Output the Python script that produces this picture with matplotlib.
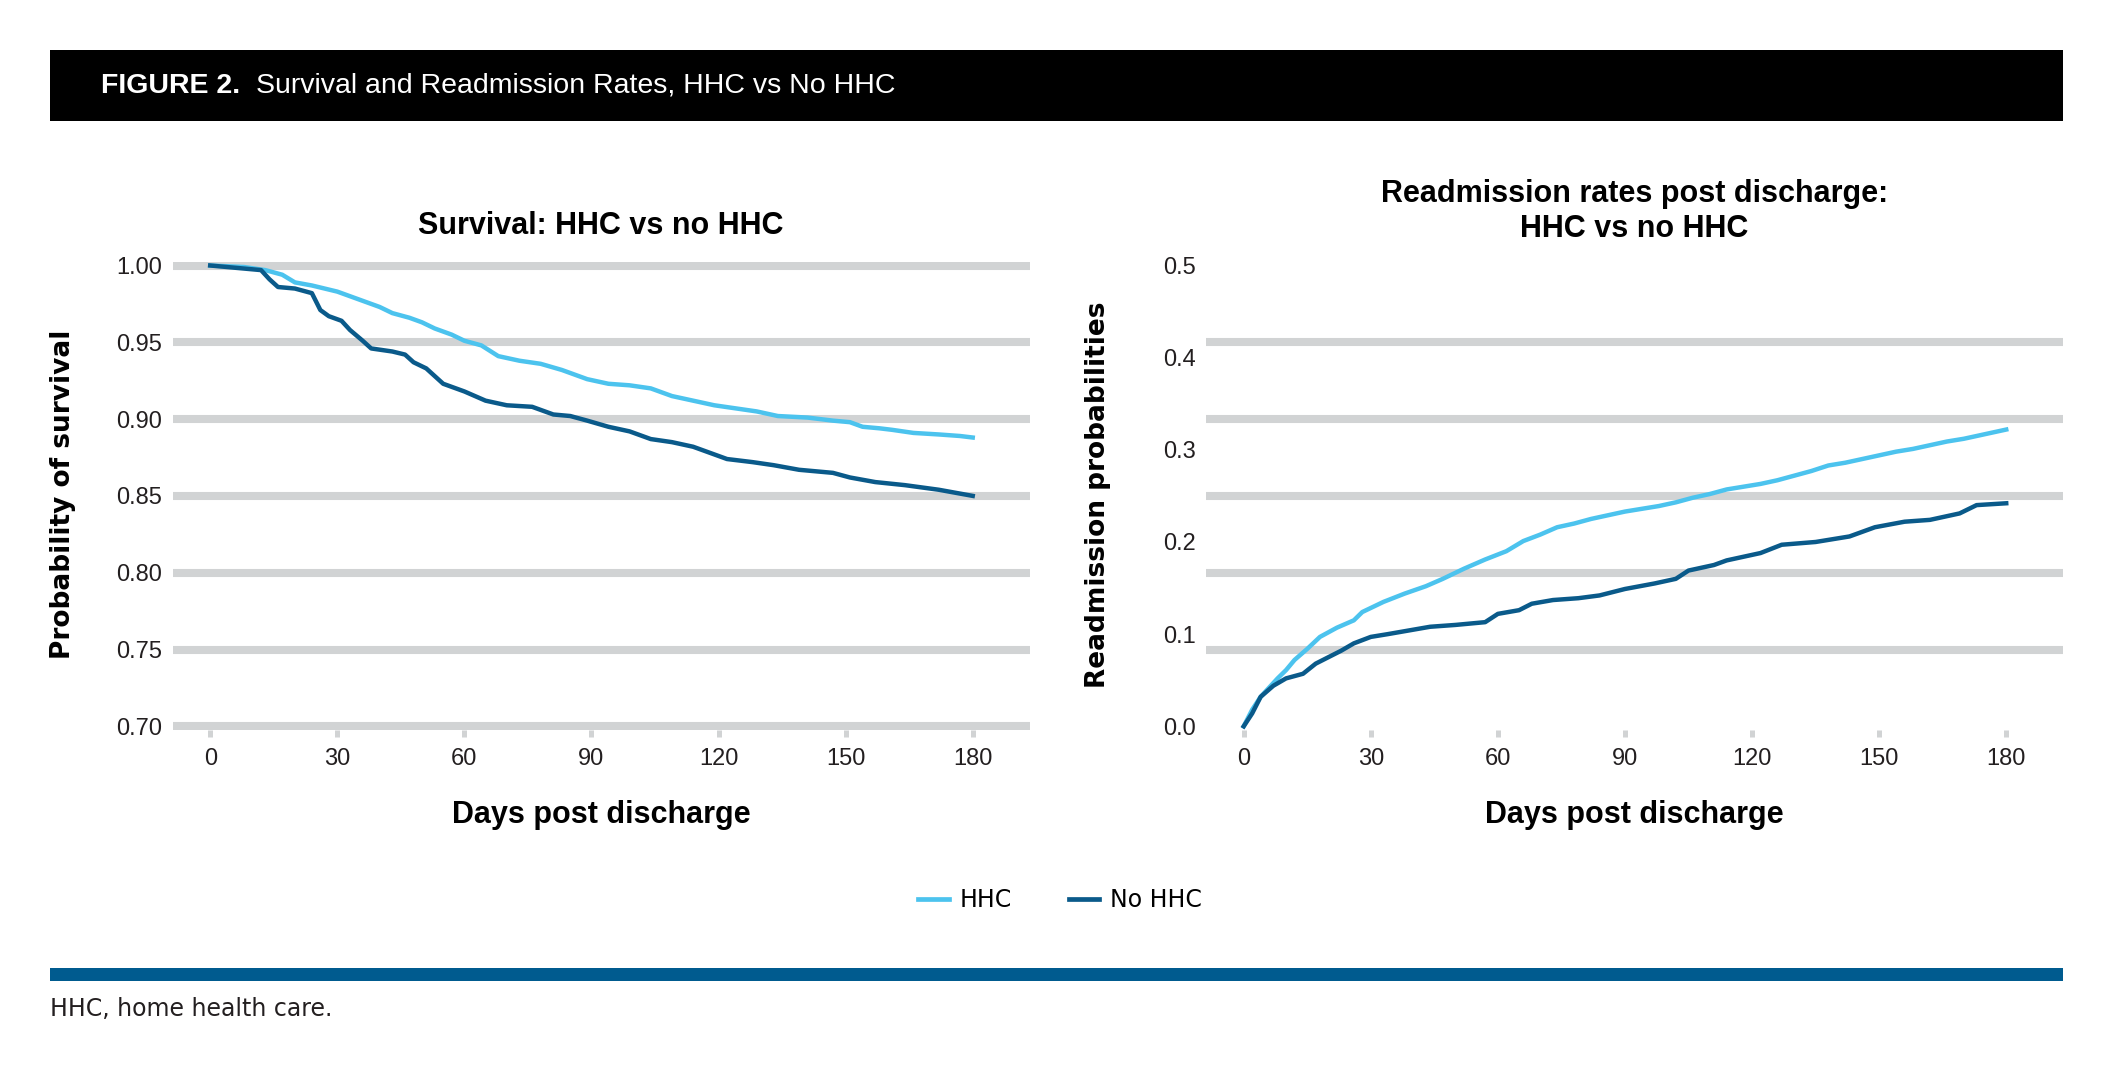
# Survival and readmission curves, HHC vs no HHC
import matplotlib
matplotlib.use('Agg')
import matplotlib.pyplot as plt
from matplotlib.lines import Line2D
from matplotlib.patches import Rectangle

# Data
surv_days_hhc = [0, 8, 13, 17, 20, 24, 27, 30, 33, 36, 40, 43, 47, 50, 53, 57, 60, 64, 68, 73,
                 78, 83, 86, 89, 94, 99, 104, 109, 114, 119, 124, 129, 134, 141, 147, 151, 154,
                 158, 161, 166, 172, 177, 180]
surv_hhc = [1.000, 0.999, 0.997, 0.994, 0.989, 0.987, 0.985, 0.983, 0.980, 0.977, 0.973, 0.969,
            0.966, 0.963, 0.959, 0.955, 0.951, 0.948, 0.941, 0.938, 0.936, 0.932, 0.929, 0.926,
            0.923, 0.922, 0.920, 0.915, 0.912, 0.909, 0.907, 0.905, 0.902, 0.901, 0.899, 0.898,
            0.895, 0.894, 0.893, 0.891, 0.890, 0.889, 0.888]

surv_days_no = [0, 12, 14, 16, 20, 24, 26, 28, 31, 33, 36, 38, 43, 46, 48, 51, 55, 60, 65, 70,
                76, 81, 85, 89, 94, 99, 104, 109, 114, 118, 122, 128, 133, 139, 147, 151, 157,
                164, 172, 178, 180]
surv_no = [1.000, 0.997, 0.991, 0.986, 0.985, 0.982, 0.971, 0.967, 0.964, 0.958, 0.951, 0.946,
           0.944, 0.942, 0.937, 0.933, 0.923, 0.918, 0.912, 0.909, 0.908, 0.903, 0.902, 0.899,
           0.895, 0.892, 0.887, 0.885, 0.882, 0.878, 0.874, 0.872, 0.870, 0.867, 0.865, 0.862,
           0.859, 0.857, 0.854, 0.851, 0.850]

readm_days_hhc = [0, 2, 4, 6, 8, 10, 12, 15, 18, 22, 26, 28, 33, 38, 43, 47, 52, 57, 62, 66,
                  70, 74, 78, 82, 86, 90, 94, 98, 102, 106, 110, 114, 118, 122, 126, 130, 134,
                  138, 142, 146, 150, 154, 158, 162, 166, 170, 174, 178, 180]
readm_hhc = [0.000, 0.018, 0.032, 0.042, 0.052, 0.061, 0.072, 0.084, 0.097, 0.107, 0.115, 0.124,
             0.135, 0.144, 0.152, 0.160, 0.171, 0.181, 0.190, 0.201, 0.208, 0.216, 0.220, 0.225,
             0.229, 0.233, 0.236, 0.239, 0.243, 0.248, 0.252, 0.257, 0.260, 0.263, 0.267, 0.272,
             0.277, 0.283, 0.286, 0.290, 0.294, 0.298, 0.301, 0.305, 0.309, 0.312, 0.316, 0.320,
             0.322]

readm_days_no = [0, 2, 4, 7, 10, 14, 17, 20, 23, 26, 30, 34, 39, 44, 50, 57, 60, 65, 68, 73,
                 79, 84, 90, 97, 102, 105, 111, 114, 122, 127, 135, 143, 149, 156, 162, 169,
                 173, 180]
readm_no = [0.000, 0.014, 0.032, 0.044, 0.052, 0.057, 0.068, 0.075, 0.082, 0.090, 0.097, 0.100,
            0.104, 0.108, 0.110, 0.113, 0.122, 0.126, 0.133, 0.137, 0.139, 0.142, 0.149, 0.155,
            0.160, 0.169, 0.175, 0.180, 0.188, 0.197, 0.200, 0.206, 0.216, 0.222, 0.224, 0.231,
            0.240, 0.242]

x_ticks = [0, 30, 60, 90, 120, 150, 180]
surv_ticks = [0.70, 0.75, 0.80, 0.85, 0.90, 0.95, 1.00]
readm_ticks = [0.0, 0.1, 0.2, 0.3, 0.4, 0.5]
readm_grid = [0.0, 0.5 / 6, 1.0 / 6, 1.5 / 6, 2.0 / 6, 2.5 / 6, 0.5]

# Styles
LIGHT = '#4cc3ee'
DARK = '#0a5a8a'
GRID = '#d1d3d4'
BAR = '#005b8f'
COND = ['Liberation Sans', 'DejaVu Sans']
LW = 3.2

W, H = 2113, 1087
fig = plt.figure(figsize=(W / 100, H / 100), dpi=100)


def fx(px):
    return px / W


def fy(py):
    return 1 - py / H


# header bar
fig.patches.append(Rectangle((fx(50), fy(121)), fx(2013), 71 / H, transform=fig.transFigure,
                             facecolor='black', edgecolor='none'))
fig.text(fx(101), fy(86), 'FIGURE 2.', color='white', fontsize=20.5, fontweight='bold',
         family=COND, va='center', ha='left')
fig.text(fx(256), fy(86), 'Survival and Readmission Rates, HHC vs No HHC', color='white',
         fontsize=20.5, family=COND, va='center', ha='left')

ax1 = fig.add_axes([fx(172.5), fy(730.3), fx(857), 468.8 / H])
ax2 = fig.add_axes([fx(1206), fy(730.3), fx(857), 468.8 / H])

ax1.plot(surv_days_hhc, surv_hhc, color=LIGHT, lw=LW, label='HHC')
ax1.plot(surv_days_no, surv_no, color=DARK, lw=LW, label='No HHC')
ax2.plot(readm_days_hhc, readm_hhc, color=LIGHT, lw=LW)
ax2.plot(readm_days_no, readm_no, color=DARK, lw=LW)

pad1 = 0.30 * 4 / 460.8
pad2 = 0.50 * 4 / 460.8
ax1.set_ylim(0.70 - pad1, 1.00 + pad1)
ax2.set_ylim(0.0 - pad2, 0.5 + pad2)

ax1.set_yticks(surv_ticks)
ax1.set_yticklabels([f'{t:.2f}' for t in surv_ticks])
ax1.grid(axis='y', color=GRID, lw=5.8)

ax2.set_yticks(readm_ticks)
ax2.set_yticklabels([f'{t:.1f}' for t in readm_ticks])
ax2.set_yticks(readm_grid, minor=True)
ax2.grid(axis='y', which='minor', color=GRID, lw=5.8)
ax2.grid(axis='y', which='major', visible=False)

for ax in (ax1, ax2):
    ax.set_xlim(-8.9, 193.4)
    ax.set_xticks(x_ticks)
    ax.set_axisbelow(True)
    for s in ax.spines.values():
        s.set_visible(False)
    ax.tick_params(axis='x', length=5, width=3.6, color=GRID, pad=8, labelsize=17)
    ax.tick_params(axis='y', which='both', length=0, pad=7.5, labelsize=17)
    for lab in ax.get_xticklabels() + ax.get_yticklabels():
        lab.set_family(COND)
        lab.set_color('#231f20')

# titles and labels
fig.text(fx(601), fy(226), 'Survival: HHC vs no HHC', fontsize=22, fontweight='bold',
         family=COND, ha='center', va='center')
fig.text(fx(1634.6), fy(211.6), 'Readmission rates post discharge:\nHHC vs no HHC', fontsize=22,
         fontweight='bold', family=COND, ha='center', va='center', linespacing=1.2)
fig.text(fx(601), fy(815), 'Days post discharge', fontsize=22, fontweight='bold', family=COND,
         ha='center', va='center')
fig.text(fx(1634.6), fy(815), 'Days post discharge', fontsize=22, fontweight='bold', family=COND,
         ha='center', va='center')
fig.text(fx(63), fy(494.6), 'Probability of survival', fontsize=19, fontweight='bold',
         family='DejaVu Sans', rotation=90, ha='center', va='center')
fig.text(fx(1098), fy(494.6), 'Readmission probabilities', fontsize=19, fontweight='bold',
         family='DejaVu Sans', rotation=90, ha='center', va='center')

# legend
handles = [Line2D([], [], color=LIGHT, lw=3.4), Line2D([], [], color=DARK, lw=3.4)]
fig.legend(handles, ['HHC', 'No HHC'], loc='center', bbox_to_anchor=(fx(1060), fy(900)),
           ncol=2, frameon=False, prop={'family': 'DejaVu Sans', 'size': 17},
           handlelength=1.3, handletextpad=0.45, columnspacing=2.4)

# bottom bar and footnote
fig.patches.append(Rectangle((fx(50), fy(981)), fx(2013), 13 / H, transform=fig.transFigure,
                             facecolor=BAR, edgecolor='none'))
fig.text(fx(50), fy(1009), 'HHC, home health care.', fontsize=17, family='DejaVu Sans',
         color='#231f20', ha='left', va='center')

plt.savefig('out.png', dpi=100)
